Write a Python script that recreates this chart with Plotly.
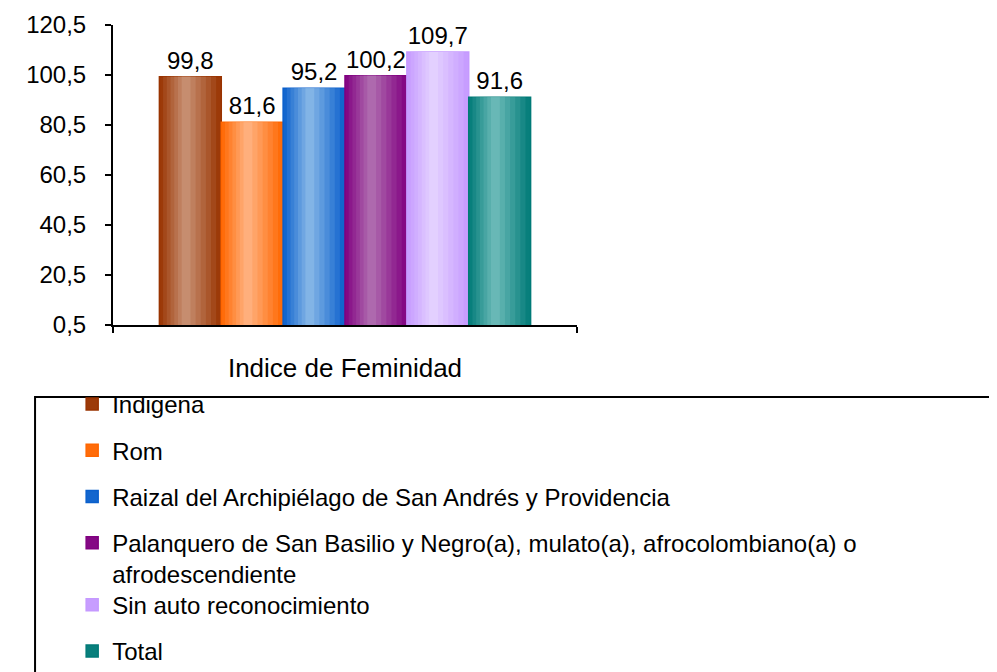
import plotly.graph_objects as go

# data
categories = ["Indice de Feminidad"]
groups = [
    "Indigena",
    "Rom",
    "Raizal del Archipiélago de San Andrés y Providencia",
    "Palanquero de San Basilio y Negro(a), mulato(a), afrocolombiano(a) o<br>afrodescendiente",
    "Sin auto reconocimiento",
    "Total",
]
values = [99.8, 81.6, 95.2, 100.2, 109.7, 91.6]

# edge / centre colours of the cylinder-like gradient
edge_colors = ["#993300", "#FF6600", "#0A5FCC", "#800080", "#C599FF", "#007A77"]
center_colors = ["#C99478", "#FFB585", "#8BBAE8", "#B271B2", "#E5D4FF", "#70BDBB"]


def mix(c1, c2, t):
	a = [int(c1[i:i + 2], 16) for i in (1, 3, 5)]
	b = [int(c2[i:i + 2], 16) for i in (1, 3, 5)]
	return "#%02x%02x%02x" % tuple(round(a[k] + (b[k] - a[k]) * t) for k in range(3))


fig = go.Figure()

n = len(groups)
group_width = 0.8
w = group_width / n
layers = 7
light_pos = 0.42  # where the gradient is lightest, as fraction of the bar width

for i, (name, val) in enumerate(zip(groups, values)):
	left = -group_width / 2 + i * w
	# the wrapped entry overlaps the gap below it in the source, so the last
	# two entries go in a second legend placed by hand
	legend_id = "legend" if i < 4 else "legend2"
	for j in range(layers):
		t = j / layers
		l_edge = light_pos * t
		r_edge = 1 - (1 - light_pos) * t
		first = j == 0
		fig.add_trace(go.Bar(
			x = categories, y = [val], name = name,
			offset = left + l_edge * w, width = (r_edge - l_edge) * w,
			marker = dict(
				color = mix(edge_colors[i], center_colors[i], (j + 0.5) / layers),
				line = dict(color = edge_colors[i], width = 1.5 if first else 0)
			),
			text = [val] if first else None,
			texttemplate = "%{y:.1f}" if first else None,
			textposition = "outside" if first else "none",
			textfont = dict(size = 24, color = "black"),
			cliponaxis = False,
			legend = legend_id,
			legendgroup = "g%d" % i, showlegend = first,
			hoverinfo = "skip" if not first else None,
		))

# legend frame, runs off the page to the right and bottom like in the source
fig.add_shape(type = "rect", xref = "paper", yref = "paper",
              x0 = -0.168, x1 = 2.0, y0 = -1.3, y1 = -0.24,
              line = dict(color = "black", width = 2))

legend_style = dict(
	x = -0.088, xanchor = "left", yanchor = "top", valign = "top",
	font = dict(size = 24), bgcolor = "rgba(0,0,0,0)",
	tracegroupgap = 12, itemwidth = 30,
)

# the page body has an 8px margin, so the figure is 8px smaller each way
fig.update_layout(
	width = 989, height = 664,
	margin = dict(l = 105, r = 420, t = 17, b = 347, autoexpand = False),
	barmode = "overlay",
	separators = ",.",
	plot_bgcolor = "white", paper_bgcolor = "white",
	font = dict(family = "Liberation Sans, Arial, sans-serif", color = "black"),
	showlegend = True,
	legend = dict(legend_style, y = -0.19),
	legend2 = dict(legend_style, y = -0.859),
	xaxis = dict(
		showline = True, linecolor = "black", linewidth = 2,
		ticks = "outside", tickson = "boundaries", ticklen = 6, tickwidth = 2, tickcolor = "black",
		tickfont = dict(size = 26), ticklabelstandoff = 19, showgrid = False,
		automargin = False,
	),
	yaxis = dict(
		range = [0.5, 120.5], tick0 = 0.5, dtick = 20, tickformat = ".1f",
		showline = True, linecolor = "black", linewidth = 2,
		ticks = "outside", ticklen = 6, tickwidth = 2, tickcolor = "black",
		tickfont = dict(size = 24), showgrid = False, zeroline = False,
		ticklabelstandoff = 14, automargin = False,
	),
)

fig.write_html("out.html")
